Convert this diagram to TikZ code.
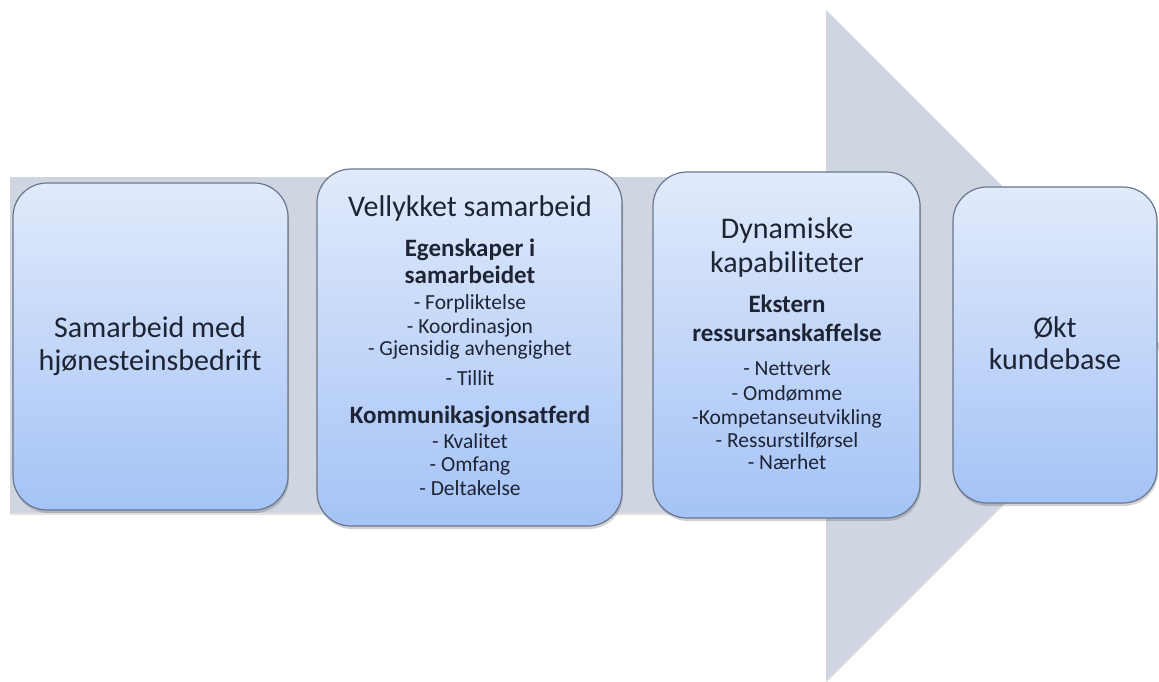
\documentclass[tikz,border=0pt]{standalone}
\usepackage{fontspec}
\setmainfont{Carlito}[Ligatures={NoCommon}]
\usetikzlibrary{shadows}

\definecolor{shaftcol}{RGB}{207,213,225}
\definecolor{boxtop}{RGB}{225,234,251}
\definecolor{boxbot}{RGB}{164,195,246}
\definecolor{boxline}{RGB}{105,118,142}
\definecolor{txtcol}{RGB}{30,36,52}

\tikzset{
  flowbox/.style={rectangle, rounded corners=34pt, draw=boxline, line width=1.2pt,
    top color=boxtop, bottom color=boxbot, inner sep=0pt,
    drop shadow={shadow xshift=1pt, shadow yshift=-3pt, opacity=.25, fill=black!70}},
  titletxt/.style={anchor=base, inner sep=0pt, text=txtcol,
    font=\fontsize{30}{33}\selectfont},
  headtxt/.style={anchor=base, inner sep=0pt, text=txtcol,
    font=\fontsize{25}{27}\selectfont\bfseries},
  itemtxt/.style={anchor=base, inner sep=0pt, text=txtcol,
    font=\fontsize{21.5}{23}\selectfont},
}

\begin{document}
\begin{tikzpicture}[x=1pt, y=-1pt]
  \useasboundingbox (0,0) rectangle (1159,681);

  % broad background arrow
  \fill[shaftcol, drop shadow={shadow xshift=0pt, shadow yshift=-2pt, opacity=.18, fill=black!60}]
    (10,177) -- (826,177) -- (826,10) -- (1161.5,345.5) -- (826,681)
    -- (826,513) -- (10,513) -- cycle;

  % the four stages
  \node[flowbox, minimum width=275pt, minimum height=327pt] (s1) at (150.5,346.5) {};
  \node[flowbox, minimum width=305pt, minimum height=357pt] (s2) at (469.5,347.5) {};
  \node[flowbox, minimum width=267pt, minimum height=346pt] (s3) at (786.5,345) {};
  \node[flowbox, minimum width=204pt, minimum height=316pt] (s4) at (1055,345) {};

  % stage 1
  \node[titletxt] (s1a) at (150,337) {Samarbeid med};
  \node[titletxt] (s1b) at (150,370) {hjønesteinsbedrift};

  % stage 2
  \node[titletxt] (s2t) at (470,216) {Vellykket samarbeid};
  \node[headtxt]  (s2h1a) at (470,256) {Egenskaper i};
  \node[headtxt]  (s2h1b) at (470,283) {samarbeidet};
  \node[itemtxt]  (s2i1) at (470,309) {- Forpliktelse};
  \node[itemtxt]  (s2i2) at (470,333) {- Koordinasjon};
  \node[itemtxt]  (s2i3) at (470,355) {- Gjensidig avhengighet};
  \node[itemtxt]  (s2i4) at (470,385) {- Tillit};
  \node[headtxt]  (s2h2) at (470,423) {Kommunikasjonsatferd};
  \node[itemtxt]  (s2i5) at (470,448) {- Kvalitet};
  \node[itemtxt]  (s2i6) at (470,471) {- Omfang};
  \node[itemtxt]  (s2i7) at (470,495) {- Deltakelse};

  % stage 3
  \node[titletxt] (s3t1) at (787,238) {Dynamiske};
  \node[titletxt] (s3t2) at (787,272) {kapabiliteter};
  \node[headtxt]  (s3h1) at (787,312) {Ekstern};
  \node[headtxt]  (s3h2) at (787,341) {ressursanskaffelse};
  \node[itemtxt]  (s3i1) at (787,375) {- Nettverk};
  \node[itemtxt]  (s3i2) at (787,400) {- Omdømme};
  \node[itemtxt]  (s3i3) at (787,424) {-Kompetanseutvikling};
  \node[itemtxt]  (s3i4) at (787,447) {- Ressurstilførsel};
  \node[itemtxt]  (s3i5) at (787,469) {- Nærhet};

  % stage 4
  \node[titletxt] (s4a) at (1055,337) {Økt};
  \node[titletxt] (s4b) at (1055,369) {kundebase};
\end{tikzpicture}
\end{document}
